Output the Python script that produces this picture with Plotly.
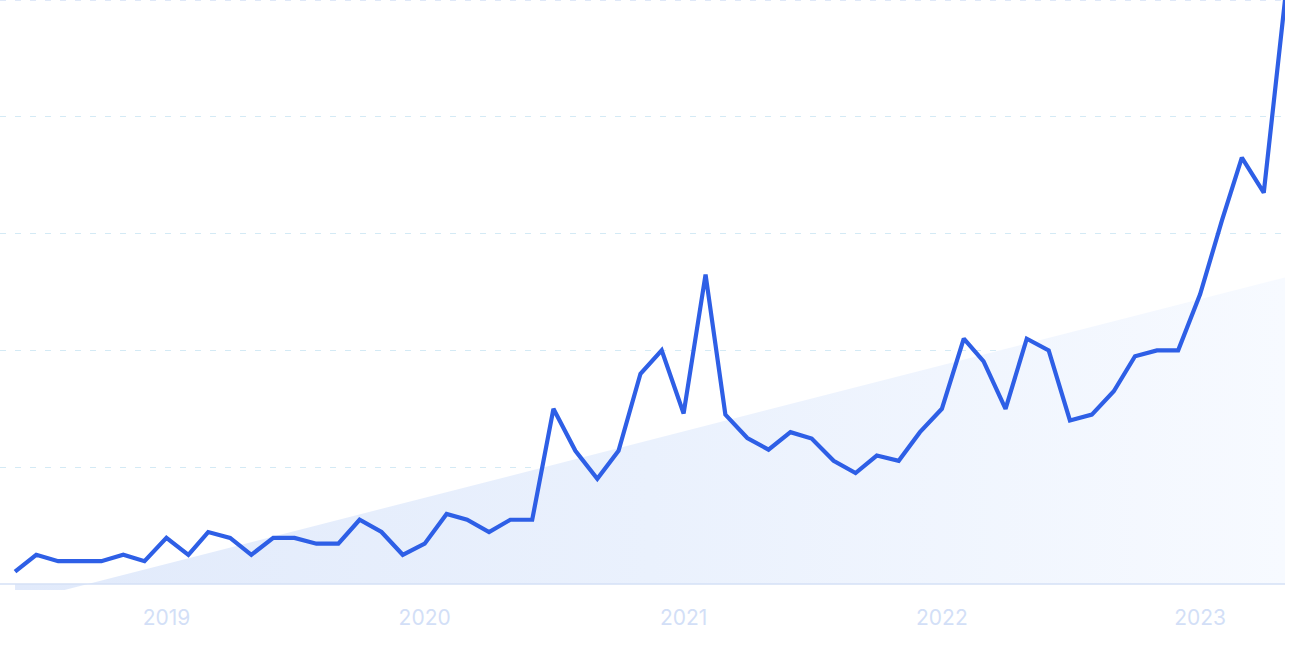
import plotly.graph_objects as go
import pandas as pd

# Monthly values, Jun 2018 .. May 2023 (0-100 scale)
months = pd.date_range("2018-06-01", "2023-05-01", freq="MS").strftime("%Y-%m-%d").tolist()
values = [
    2.1, 5.0, 3.9, 3.9, 3.9, 5.0, 3.9, 7.9, 5.0, 8.9,
    7.9, 5.0, 7.9, 7.9, 6.9, 6.9, 11.0, 8.9, 5.0, 6.9,
    12.0, 11.0, 8.9, 11.0, 11.0, 30.0, 22.8, 18.0, 22.8, 36.0,
    40.0, 29.2, 53.0, 29.0, 25.0, 23.0, 26.0, 24.9, 21.1, 19.0,
    22.0, 21.1, 26.0, 30.0, 42.0, 38.1, 30.0, 42.0, 40.0, 28.0,
    29.0, 33.0, 39.0, 40.0, 40.0, 49.6, 62.3, 73.0, 67.0, 100.0,
]
trend_x = [months[0], months[-1]]
trend_y = [-3.2, 52.5]
tick_vals = ["2019-01-01", "2020-01-01", "2021-01-01", "2022-01-01", "2023-01-01"]
tick_text = ["2019", "2020", "2021", "2022", "2023"]
grid_vals = [20, 40, 60, 80]
top_grid = 100

fig = go.Figure()
fig.add_trace(go.Scatter(x=trend_x, y=trend_y, mode="lines",
                         line=dict(width=0, color="rgba(0,0,0,0)"),
                         fill="tozeroy",
                         fillgradient=dict(type="horizontal",
                                           colorscale=[[0, "#e1eafb"], [0.5, "#eaf1fd"], [1, "#f7faff"]]),
                         hoverinfo="skip", showlegend=False))
fig.add_trace(go.Scatter(x=months, y=values, mode="lines",
                         line=dict(color="#2e5fe6", width=4.2, shape="linear"),
                         showlegend=False))

fig.add_shape(type="line", xref="paper", yref="y", x0=0, x1=1, y0=0, y1=0,
              line=dict(color="#d5e1f6", width=1.5), layer="above")
fig.add_shape(type="line", xref="paper", yref="y", x0=0, x1=1, y0=top_grid, y1=top_grid,
              line=dict(color="#dfe8f8", width=2, dash="6px,9px"), layer="below")

fig.update_layout(
    width=1290, height=645,
    margin=dict(l=0, r=5, t=0, b=55),
    paper_bgcolor="white", plot_bgcolor="white",
    font=dict(family="Inter, Roboto, sans-serif"),
    xaxis=dict(range=["2018-05-10 18:00", "2023-05-01"], tickvals=tick_vals, ticktext=tick_text,
               showgrid=False, zeroline=False, showline=False, ticks="",
               tickfont=dict(size=21, color="#d3dff7"), ticklabelstandoff=13),
    yaxis=dict(range=[-1.03, 100], tickvals=grid_vals, showticklabels=False,
               showgrid=True, gridcolor="#d4eaf5", gridwidth=1.2, griddash="6px,9px",
               zeroline=False, showline=False),
)

fig.write_html("out.html", config={"displayModeBar": False},
               post_script="document.body.style.margin='0';document.body.style.padding='0';")
